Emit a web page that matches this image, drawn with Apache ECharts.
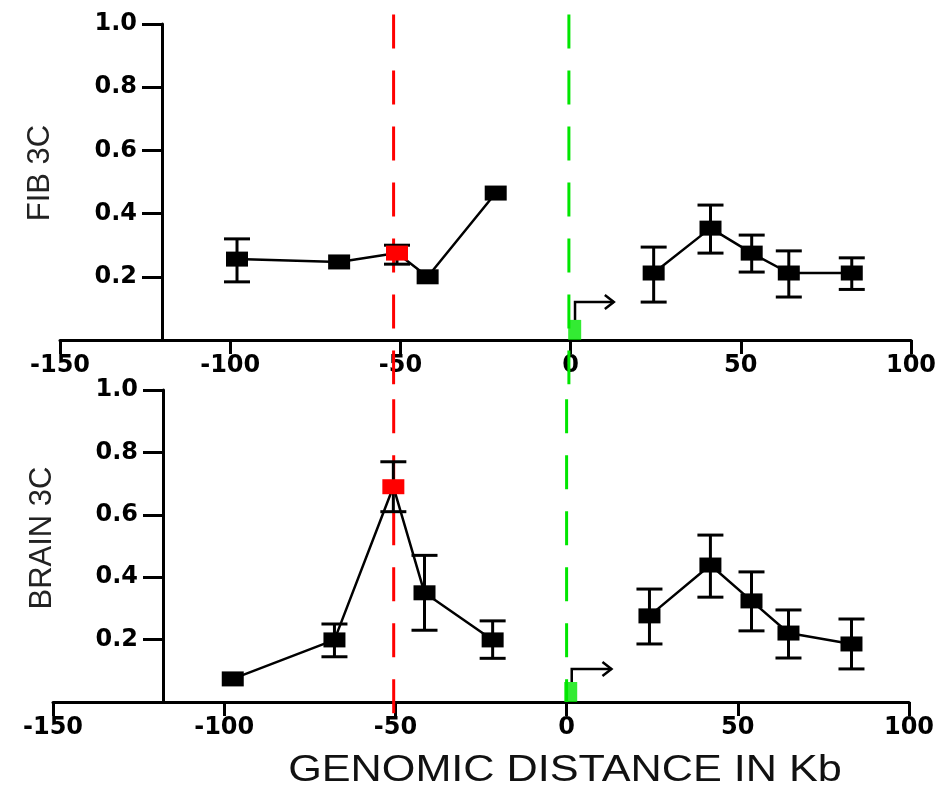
<!DOCTYPE html>
<html>
<head>
<meta charset="utf-8">
<script src="https://cdn.jsdelivr.net/npm/echarts@6/dist/echarts.min.js"></script>
<style>html,body{margin:0;padding:0;background:#fff;}#c{width:948px;height:794px;}</style>
</head>
<body>
<div id="c"></div>
<script>
// ---------- data ----------
const xTicks = [-150, -100, -50, 0, 50, 100];
const yTicks = [0.2, 0.4, 0.6, 0.8, 1.0];
const panelNames = ['FIB 3C', 'BRAIN 3C'];
const xTitle = 'GENOMIC DISTANCE IN Kb';

// FIB 3C (top panel)
const fibLeftX    = [-98, -68, -51, -42, -22];
const fibLeftY    = [0.256, 0.247, 0.275, 0.200, 0.465];
const fibLeftLow  = [0.184, null, 0.240, null, null];
const fibLeftHigh = [0.320, null, 0.300, null, null];
const fibRightX    = [24.4, 41.1, 53.2, 64.1, 82.6];
const fibRightY    = [0.212, 0.354, 0.275, 0.212, 0.212];
const fibRightLow  = [0.120, 0.275, 0.215, 0.136, 0.160];
const fibRightHigh = [0.294, 0.427, 0.332, 0.282, 0.260];
const fibRedLine   = [-52, 1.03, -0.14];   // x, y from, y to
const fibGreenLine = [-0.5, 1.03, -0.14];
const fibGreenPoint = [1.2, 0.032];
const fibArrow = [1.3, 0.063, 0.12, 12.7]; // x0, y0, y1, x1

// BRAIN 3C (bottom panel)
const brainLeftX    = [-97.5, -67.8, -50.6, -41.5, -21.6];
const brainLeftY    = [0.074, 0.199, 0.690, 0.350, 0.199];
const brainLeftLow  = [null, 0.145, 0.610, 0.230, 0.140];
const brainLeftHigh = [null, 0.250, 0.770, 0.470, 0.260];
const brainRightX    = [24.2, 42.0, 54.0, 64.8, 83.2];
const brainRightY    = [0.276, 0.439, 0.324, 0.221, 0.186];
const brainRightLow  = [0.186, 0.336, 0.228, 0.141, 0.106];
const brainRightHigh = [0.362, 0.535, 0.417, 0.295, 0.266];
const brainRedLine   = [-50.5, 0.97, -0.09];
const brainGreenLine = [0, 0.97, 0.0];
const brainGreenPoint = [1.2, 0.032];
const brainArrow = [1.5, 0.064, 0.106, 13.1];

const redIndex = 2;

// ---------- build ----------
const RED = '#ff0000', GREEN = '#00e600';
const yLabelFont = {fontFamily: 'DejaVu Sans', fontWeight: 'bold', fontSize: 24, color: '#000'};
const xLabelFont = {fontFamily: 'DejaVu Sans', fontWeight: 'bold', fontSize: 24, color: '#000'};

function xAxisOf(g) {
  return {
    gridIndex: g, type: 'value', min: xTicks[0], max: xTicks[xTicks.length - 1], interval: 50,
    axisLine: {onZero: false, lineStyle: {color: '#000', width: 3}},
    axisTick: {length: 14, lineStyle: {color: '#000', width: 3}},
    axisLabel: Object.assign({margin: 14}, xLabelFont),
    splitLine: {show: false}
  };
}
function yAxisOf(g, off) {
  return {
    gridIndex: g, type: 'value', min: 0, max: yTicks[yTicks.length - 1], interval: 0.2, offset: off,
    axisLine: {show: true, onZero: false, lineStyle: {color: '#000', width: 3}},
    axisTick: {show: true, length: 20, lineStyle: {color: '#000', width: 3}},
    axisLabel: Object.assign({margin: 25, formatter: v => (v === 0 ? '' : v.toFixed(1))}, yLabelFont),
    splitLine: {show: false}
  };
}

function lineSeries(g, xs, ys, withRed) {
  return {
    type: 'line', xAxisIndex: g, yAxisIndex: g, z: 5,
    symbol: 'rect', symbolSize: [22, 15],
    lineStyle: {color: '#000', width: 2.5},
    itemStyle: {color: '#000'},
    data: xs.map((x, i) => (withRed && i === redIndex)
      ? {value: [x, ys[i]], itemStyle: {color: RED}}
      : [x, ys[i]])
  };
}
function errSeries(g, xs, lo, hi) {
  const data = [];
  xs.forEach((x, i) => { if (lo[i] != null) data.push([x, lo[i], hi[i]]); });
  return {
    type: 'custom', xAxisIndex: g, yAxisIndex: g, z: 4,
    encode: {x: 0, y: [1, 2]},
    data: data,
    renderItem: function (params, api) {
      const a = api.coord([api.value(0), api.value(1)]);
      const b = api.coord([api.value(0), api.value(2)]);
      const w = 13;
      const st = {stroke: '#000', lineWidth: 3};
      return {type: 'group', children: [
        {type: 'line', shape: {x1: a[0], y1: a[1], x2: b[0], y2: b[1]}, style: st},
        {type: 'line', shape: {x1: a[0] - w, y1: a[1], x2: a[0] + w, y2: a[1]}, style: st},
        {type: 'line', shape: {x1: b[0] - w, y1: b[1], x2: b[0] + w, y2: b[1]}, style: st}
      ]};
    }
  };
}
function dashSeries(g, spec, color) {
  return {
    type: 'line', xAxisIndex: g, yAxisIndex: g, z: 3, clip: false, symbol: 'none',
    lineStyle: {color: color, width: 3, type: [34, 22]},
    data: [[spec[0], spec[1]], [spec[0], spec[2]]]
  };
}
function greenPoint(g, p) {
  return {
    type: 'scatter', xAxisIndex: g, yAxisIndex: g, z: 6,
    symbol: 'rect', symbolSize: [13, 20], itemStyle: {color: GREEN},
    data: [p]
  };
}
function arrowSeries(g, a) {
  return {
    type: 'custom', xAxisIndex: g, yAxisIndex: g, z: 6,
    encode: {x: 0, y: 1},
    data: [a],
    renderItem: function (params, api) {
      const p0 = api.coord([api.value(0), api.value(1)]);
      const p1 = api.coord([api.value(0), api.value(2)]);
      const p2 = api.coord([api.value(3), api.value(2)]);
      const st = {stroke: '#000', lineWidth: 2.5, fill: null};
      return {type: 'group', children: [
        {type: 'polyline', shape: {points: [p0, p1, p2]}, style: st},
        {type: 'polyline', shape: {points: [[p2[0] - 9, p2[1] - 7], p2, [p2[0] - 9, p2[1] + 7]]}, style: st}
      ]};
    }
  };
}

const option = {
  animation: false,
  backgroundColor: '#fff',
  grid: [
    {left: 60, top: 24, width: 851, height: 316, outerBoundsMode: 'none', containLabel: false},
    {left: 53, top: 390, width: 856, height: 312, outerBoundsMode: 'none', containLabel: false}
  ],
  xAxis: [xAxisOf(0), xAxisOf(1)],
  yAxis: [yAxisOf(0, -102), yAxisOf(1, -110)],
  series: [
    dashSeries(0, fibRedLine, RED),
    dashSeries(0, fibGreenLine, GREEN),
    errSeries(0, fibLeftX, fibLeftLow, fibLeftHigh),
    errSeries(0, fibRightX, fibRightLow, fibRightHigh),
    lineSeries(0, fibLeftX, fibLeftY, true),
    lineSeries(0, fibRightX, fibRightY, false),
    greenPoint(0, fibGreenPoint),
    arrowSeries(0, fibArrow),

    dashSeries(1, brainRedLine, RED),
    dashSeries(1, brainGreenLine, GREEN),
    errSeries(1, brainLeftX, brainLeftLow, brainLeftHigh),
    errSeries(1, brainRightX, brainRightLow, brainRightHigh),
    lineSeries(1, brainLeftX, brainLeftY, true),
    lineSeries(1, brainRightX, brainRightY, false),
    greenPoint(1, brainGreenPoint),
    arrowSeries(1, brainArrow)
  ],
  graphic: [
    {type: 'text', x: 40, y: 173, rotation: Math.PI / 2,
     style: {text: panelNames[0], font: '31px "Liberation Sans", Arial, sans-serif', fill: '#222', align: 'center', verticalAlign: 'middle'}},
    {type: 'text', x: 42, y: 538, rotation: Math.PI / 2,
     style: {text: panelNames[1], font: '31px "Liberation Sans", Arial, sans-serif', fill: '#222', align: 'center', verticalAlign: 'middle'}},
    {type: 'text', x: 565, y: 771, scaleX: 1.2,
     style: {text: xTitle, font: '36px "Liberation Sans", Arial, sans-serif', fill: '#111', align: 'center', verticalAlign: 'middle'}}
  ]
};

const chart = echarts.init(document.getElementById('c'), null, {renderer: 'canvas'});
chart.setOption(option);
</script>
</body>
</html>
